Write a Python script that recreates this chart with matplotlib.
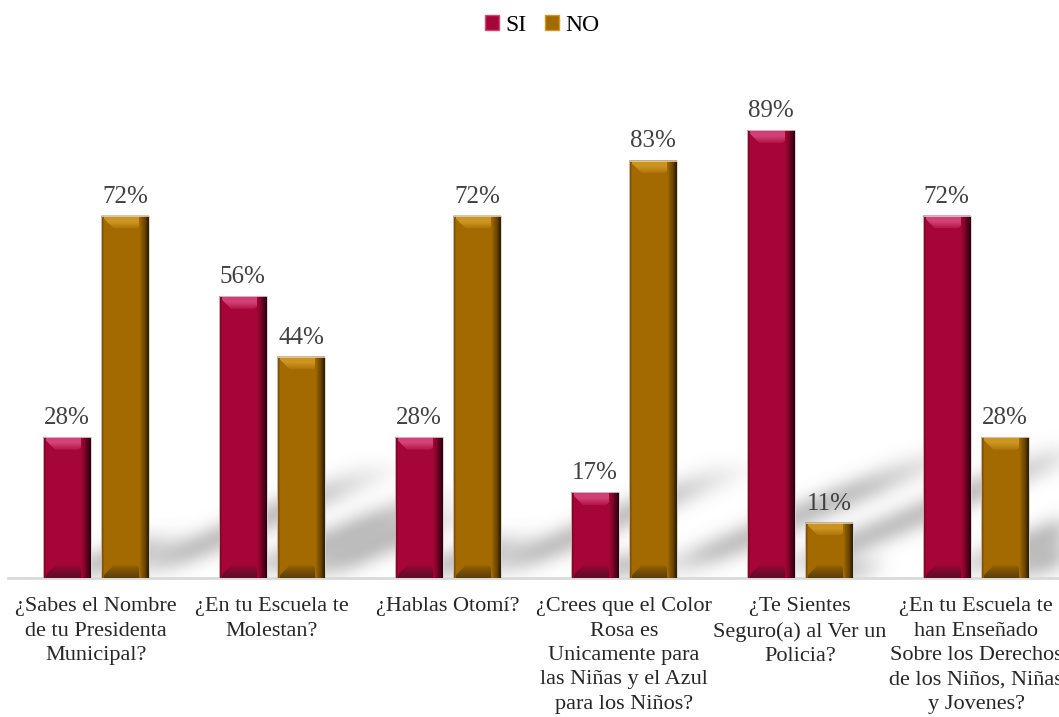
import numpy as np
import matplotlib as mpl
mpl.use('Agg')
import matplotlib.pyplot as plt
from matplotlib.patches import Polygon, Rectangle
from matplotlib.colors import to_rgb


questions = ['¿Sabes el Nombre\nde tu Presidenta\nMunicipal?',
             '¿En tu Escuela te\nMolestan?',
             '¿Hablas Otomí?',
             '¿Crees que el Color\nRosa es\nUnicamente para\nlas Niñas y el Azul\npara los Niños?',
             '¿Te Sientes\nSeguro(a) al Ver un\nPolicia?',
             '¿En tu Escuela te\nhan Enseñado\nSobre los Derechos\nde los Niños, Niñas\ny Jovenes?']
si_vals = [28, 56, 28, 17, 89, 72]
no_vals = [72, 44, 72, 83, 11, 28]
series_names = ['SI', 'NO']

# colours: main, top bevel light, bottom bevel dark, right edge dark
si_cols = ['#a50538', '#d6457a', '#5e0c2a', '#2a000e']
no_cols = ['#a26a00', '#d09824', '#5e3f0a', '#2c1c00']

W, H = 1059, 717
fig = plt.figure(figsize=(W / 100, H / 100), dpi=100)
ax_l, ax_b, ax_w, ax_h = 8, 139, 1056, 503
ax = fig.add_axes([ax_l / W, ax_b / H, ax_w / W, ax_h / H])
ax.set_xlim(-0.5, len(questions) - 0.5)
ax.set_ylim(0, 100)

sx = ax_w / len(questions)   # px per category
sy = ax_h / 100.0            # px per percent
bw = 0.27
off = 0.166
bx = 12 / sx
by = 12 / sy

x = np.arange(len(questions))


def mix(c1, c2, f):
    a, b = np.array(to_rgb(c1)), np.array(to_rgb(c2))
    return tuple(a + (b - a) * f)


def draw_shadows(bars_list):
    # soft perspective shadow cast up-right behind the bars
    nx, ny = ax_w, ax_h
    px = (np.arange(nx) + 0.5)[None, :]
    py = (np.arange(ny) + 0.5)[:, None]
    img = np.zeros((ny, nx))
    for xs, hs in bars_list:
        for xc, h in zip(xs, hs):
            hp = h * sy
            dx, dy = 0.75 * hp, 0.32 * hp
            x0 = (xc - bw / 2 + 0.5) * sx
            x1 = (xc + bw / 2 + 0.5) * sx
            t = py / dy
            xb = px - t * dx
            inside = (xb >= x0) & (xb <= x1) & (t <= 1)
            f = np.clip(t / 0.2, 0, 1) * np.clip((1 - t) / 0.35, 0, 1)
            img = np.maximum(img, np.where(inside, f, 0))
    k = np.arange(-27, 28)
    g = np.exp(-k ** 2 / (2 * 9.0 ** 2))
    g /= g.sum()
    img = np.apply_along_axis(lambda r: np.convolve(r, g, mode='same'), 1, img)
    img = np.apply_along_axis(lambda c: np.convolve(c, g, mode='same'), 0, img)
    rgba = np.zeros((ny, nx, 4))
    rgba[..., :3] = 0.45
    rgba[..., 3] = img * 0.6
    ax.imshow(rgba, origin='lower', extent=(-0.5, len(questions) - 0.5, 0, 100),
              aspect='auto', zorder=0, interpolation='bilinear')


def bevel(patch, cols, n=12):
    main, light, dark, edge = cols
    x0 = patch.get_x()
    x1 = x0 + patch.get_width()
    h = patch.get_height()
    bxx, byy = bx, min(by, h / 2)
    # top bevel
    for i in range(n):
        v0, v1 = i / n, (i + 1) / n
        vm = (v0 + v1) / 2
        if vm < 0.1:
            c = mix(main, light, 0.7)
        elif vm < 0.5:
            c = light
        else:
            c = mix(light, main, 0.65 * (vm - 0.5) / 0.5)
        ax.add_patch(Polygon([(x0 + v0 * bxx, h - v0 * byy), (x1 - v0 * bxx, h - v0 * byy),
                              (x1 - v1 * bxx, h - v1 * byy), (x0 + v1 * bxx, h - v1 * byy)],
                             closed=True, fc=c, ec=c, lw=0.3, zorder=4))
    # bottom bevel
    for i in range(n):
        v0, v1 = i / n, (i + 1) / n
        vm = (v0 + v1) / 2
        c = mix(dark, main, 0.75 * vm ** 1.2)
        ax.add_patch(Polygon([(x0 + v0 * bxx, v0 * byy), (x1 - v0 * bxx, v0 * byy),
                              (x1 - v1 * bxx, v1 * byy), (x0 + v1 * bxx, v1 * byy)],
                             closed=True, fc=c, ec=c, lw=0.3, zorder=4))
    # right edge dark gradient, full height
    ew = 10 / sx
    for i in range(n):
        u0, u1 = i / n, (i + 1) / n
        c = mix(main, edge, ((u0 + u1) / 2) ** 1.3)
        ax.add_patch(Rectangle((x1 - ew + u0 * ew, 0), (u1 - u0) * ew, h,
                               fc=c, ec='none', zorder=5))
    # left edge thin darker line
    lw_ = 3 / sx
    for i in range(3):
        c = mix(main, edge, 0.45 - i * 0.15)
        ax.add_patch(Rectangle((x0 + i * lw_ / 3, 0), lw_ / 3, h,
                               fc=c, ec='none', zorder=5))
    # faint light outline
    ax.add_patch(Rectangle((x0, 0), x1 - x0, h, fc='none', ec='#d9cfcf',
                           lw=0.6, zorder=6))


draw_shadows([(x - off, si_vals), (x + off, no_vals)])

bars_si = ax.bar(x - off, si_vals, bw, color=si_cols[0], zorder=3, label=series_names[0])
bars_no = ax.bar(x + off, no_vals, bw, color=no_cols[0], zorder=3, label=series_names[1])
for p in bars_si:
    bevel(p, si_cols)
for p in bars_no:
    bevel(p, no_cols)

for bars, vals in [(bars_si, si_vals), (bars_no, no_vals)]:
    for p, v in zip(bars, vals):
        ax.text(p.get_x() + p.get_width() / 2, v + 1.6, '%d%%' % v,
                ha='center', va='bottom', fontsize=18, color='#404040',
                family='Liberation Serif', zorder=7)

for s in ['top', 'left', 'right']:
    ax.spines[s].set_visible(False)
ax.spines['bottom'].set_color('#d9d9d9')
ax.spines['bottom'].set_linewidth(2)
ax.spines['bottom'].set_zorder(2)
ax.set_yticks([])
ax.set_xticks(x)
ax.set_xticklabels(questions, fontsize=16, color='#262626',
                   family='Liberation Serif', linespacing=1.38)
ax.tick_params(axis='x', length=0, pad=14)

handles = [Rectangle((0, 0), 1, 1, fc=si_cols[0], ec=si_cols[1], lw=1),
           Rectangle((0, 0), 1, 1, fc=no_cols[0], ec=no_cols[1], lw=1)]
fig.legend(handles, series_names, loc='center', bbox_to_anchor=(0.512, 0.965),
           ncol=2, frameon=False, handlelength=0.6, handleheight=0.6,
           handletextpad=0.25, columnspacing=0.8,
           prop={'family': 'Liberation Serif', 'size': 17})

plt.savefig('out.png', dpi=100)
plt.close()
